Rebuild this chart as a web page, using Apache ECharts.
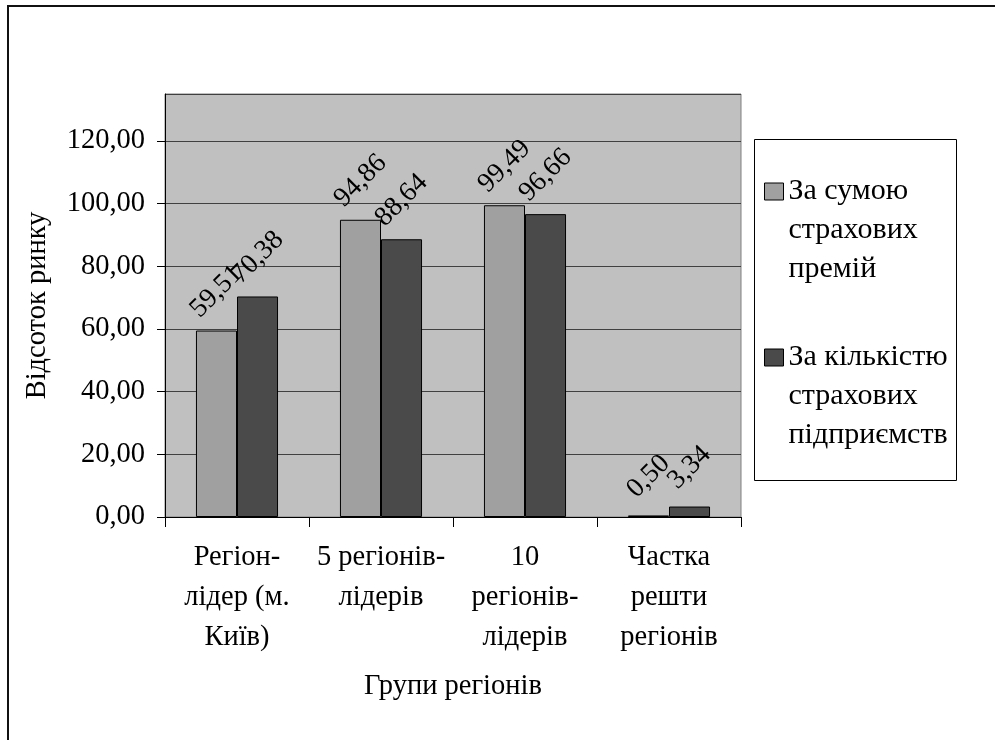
<!DOCTYPE html>
<html>
<head>
<meta charset="utf-8">
<script src="https://cdn.jsdelivr.net/npm/echarts@6/dist/echarts.min.js"></script>
<style>html,body{margin:0;padding:0;background:#fff;}#c{width:995px;height:740px;}</style>
</head>
<body>
<div id="c"></div>
<script>
var categories = ['Регіон-\nлідер (м.\nКиїв)', '5 регіонів-\nлідерів', '10\nрегіонів-\nлідерів', 'Частка\nрешти\nрегіонів'];
var seriesNames = ['За сумою страхових премій', 'За кількістю страхових підприємств'];
var legendLabels = ['За сумою\nстрахових\nпремій', 'За кількістю\nстрахових\nпідприємств'];
var premiums = [59.51, 94.86, 99.49, 0.50];
var companies = [70.38, 88.64, 96.66, 3.34];
var yTicks = [0, 20, 40, 60, 80, 100, 120];
var xAxisName = 'Групи регіонів';
var yAxisName = 'Відсоток ринку';

var FONT = 'Liberation Serif';
function fmt(v) { return Number(v).toFixed(2).replace('.', ','); }

var chart = echarts.init(document.getElementById('c'), null, {renderer: 'canvas'});
var labelCfg = {
  show: true, position: 'top', distance: 39, rotate: 45,
  align: 'center', verticalAlign: 'middle',
  fontFamily: FONT, fontSize: 27.5, color: '#000',
  formatter: function (p) { return fmt(p.value); }
};
chart.setOption({
  backgroundColor: '#fff',
  animation: false,
  textStyle: {fontFamily: FONT},
  graphic: [
    {type: 'rect', z: -10, shape: {x: 8, y: 6, width: 1100, height: 900}, style: {fill: 'none', stroke: '#111', lineWidth: 2}},
    {type: 'rect', z: -10, shape: {x: 754.5, y: 139.5, width: 202, height: 341}, style: {fill: '#fff', stroke: '#000', lineWidth: 1}}
  ],
  grid: {left: 165, top: 94, width: 576, height: 423, show: true, backgroundColor: '#c0c0c0', borderColor: '#808080', borderWidth: 1},
  legend: {
    orient: 'vertical', left: 764, top: 94, padding: 0, itemGap: -29,
    itemWidth: 19, itemHeight: 17, icon: 'rect',
    itemStyle: {borderColor: '#000', borderWidth: 1},
    data: seriesNames,
    formatter: function (name) { return '\n\n' + legendLabels[seriesNames.indexOf(name)]; },
    textStyle: {fontFamily: FONT, fontSize: 30, lineHeight: 39, color: '#000'}
  },
  xAxis: {
    type: 'category', data: categories,
    name: xAxisName, nameLocation: 'middle', nameGap: 155,
    nameTextStyle: {fontFamily: FONT, fontSize: 28.5, color: '#000'},
    axisLine: {lineStyle: {color: '#000', width: 1}},
    axisTick: {show: true, length: 10, lineStyle: {color: '#000'}},
    axisLabel: {interval: 0, margin: 21, fontFamily: FONT, fontSize: 28.5, lineHeight: 40, color: '#000'}
  },
  yAxis: {
    type: 'value', min: 0, max: 135, interval: 20,
    name: yAxisName, nameLocation: 'middle', nameGap: 113,
    nameTextStyle: {fontFamily: FONT, fontSize: 28.5, color: '#000'},
    axisLine: {show: true, lineStyle: {color: '#000', width: 1}},
    axisTick: {show: true, length: 8, lineStyle: {color: '#000'}},
    axisLabel: {margin: 20, fontFamily: FONT, fontSize: 28.5, color: '#000', showMaxLabel: false,
      formatter: function (v) { return yTicks.indexOf(v) >= 0 ? fmt(v) : ''; }},
    splitLine: {show: true, lineStyle: {color: '#404040', width: 1}}
  },
  series: [
    {name: seriesNames[0], type: 'bar', data: premiums, barGap: '0%', barCategoryGap: '43%',
     itemStyle: {color: '#a0a0a0', borderColor: '#000', borderWidth: 1}, label: labelCfg},
    {name: seriesNames[1], type: 'bar', data: companies,
     itemStyle: {color: '#4a4a4a', borderColor: '#000', borderWidth: 1}, label: labelCfg}
  ]
});
</script>
</body>
</html>
